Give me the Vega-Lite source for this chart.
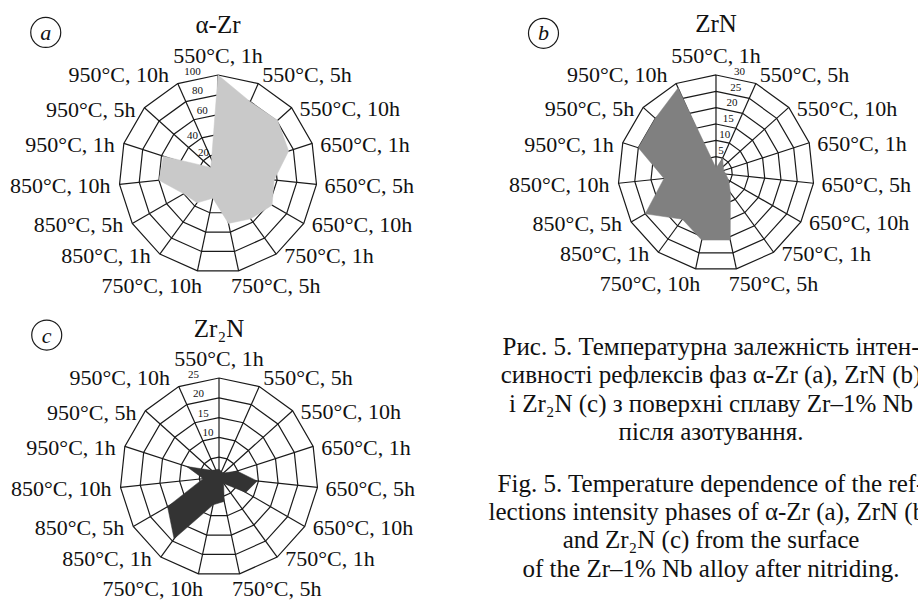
{
  "$schema": "https://vega.github.io/schema/vega-lite/v6.json",
  "padding": 0,
  "background": "white",
  "config": {"view": {"stroke": null}, "text": {"font": "Liberation Serif", "color": "#111"}},
  "datasets": {
    "cats": [
      {"i": 0, "label": "550°C, 1h"}, {"i": 1, "label": "550°C, 5h"}, {"i": 2, "label": "550°C, 10h"},
      {"i": 3, "label": "650°C, 1h"}, {"i": 4, "label": "650°C, 5h"}, {"i": 5, "label": "650°C, 10h"},
      {"i": 6, "label": "750°C, 1h"}, {"i": 7, "label": "750°C, 5h"}, {"i": 8, "label": "750°C, 10h"},
      {"i": 9, "label": "850°C, 1h"}, {"i": 10, "label": "850°C, 5h"}, {"i": 11, "label": "850°C, 10h"},
      {"i": 12, "label": "950°C, 1h"}, {"i": 13, "label": "950°C, 5h"}, {"i": 14, "label": "950°C, 10h"}
    ],
    "vals": [
      {"panel": "a", "i": 0, "v": 100}, {"panel": "a", "i": 1, "v": 80}, {"panel": "a", "i": 2, "v": 81},
      {"panel": "a", "i": 3, "v": 75}, {"panel": "a", "i": 4, "v": 57}, {"panel": "a", "i": 5, "v": 63},
      {"panel": "a", "i": 6, "v": 56}, {"panel": "a", "i": 7, "v": 51}, {"panel": "a", "i": 8, "v": 25},
      {"panel": "a", "i": 9, "v": 36}, {"panel": "a", "i": 10, "v": 40}, {"panel": "a", "i": 11, "v": 60},
      {"panel": "a", "i": 12, "v": 58}, {"panel": "a", "i": 13, "v": 10}, {"panel": "a", "i": 14, "v": 16},
      {"panel": "b", "i": 0, "v": 1.5}, {"panel": "b", "i": 1, "v": 5}, {"panel": "b", "i": 2, "v": 3},
      {"panel": "b", "i": 3, "v": 2.5}, {"panel": "b", "i": 4, "v": 3}, {"panel": "b", "i": 5, "v": 4.5},
      {"panel": "b", "i": 6, "v": 7.5}, {"panel": "b", "i": 7, "v": 21}, {"panel": "b", "i": 8, "v": 21},
      {"panel": "b", "i": 9, "v": 17.5}, {"panel": "b", "i": 10, "v": 25}, {"panel": "b", "i": 11, "v": 16},
      {"panel": "b", "i": 12, "v": 25}, {"panel": "b", "i": 13, "v": 25}, {"panel": "b", "i": 14, "v": 28.5},
      {"panel": "c", "i": 0, "v": 2}, {"panel": "c", "i": 1, "v": 1.5}, {"panel": "c", "i": 2, "v": 1.5},
      {"panel": "c", "i": 3, "v": 4.8}, {"panel": "c", "i": 4, "v": 9.7}, {"panel": "c", "i": 5, "v": 7.8},
      {"panel": "c", "i": 6, "v": 2}, {"panel": "c", "i": 7, "v": 6.3}, {"panel": "c", "i": 8, "v": 7.2},
      {"panel": "c", "i": 9, "v": 19.3}, {"panel": "c", "i": 10, "v": 15}, {"panel": "c", "i": 11, "v": 4},
      {"panel": "c", "i": 12, "v": 8.6}, {"panel": "c", "i": 13, "v": 2.5}, {"panel": "c", "i": 14, "v": 2}
    ],
    "grid": [
      {"panel": "a", "i": [0,1,2,3,4,5,6,7,8,9,10,11,12,13,14], "lv": [20,40,60,80,100]},
      {"panel": "b", "i": [0,1,2,3,4,5,6,7,8,9,10,11,12,13,14], "lv": [5,10,15,20,25,30]},
      {"panel": "c", "i": [0,1,2,3,4,5,6,7,8,9,10,11,12,13,14], "lv": [5,10,15,20,25]}
    ],
    "panels": [
      {"panel": "a", "title": "α-Zr", "letter": "a"},
      {"panel": "b", "title": "ZrN", "letter": "b"},
      {"panel": "c", "title": "Zr₂N", "letter": "c"}
    ],
    "caption": [
      {"p": 1, "lines": ["Рис. 5. Температурна залежність інтен-", "сивності рефлексів фаз α-Zr (a), ZrN (b)", "і Zr₂N (c) з поверхні сплаву Zr–1% Nb", "після азотування."]},
      {"p": 2, "lines": ["Fig. 5. Temperature dependence of the ref-", "lections intensity phases of α-Zr (a), ZrN (b)", "and Zr₂N (c) from the surface", "of the Zr–1% Nb alloy after nitriding."]}
    ]
  },
  "columns": 2,
  "spacing": 0,
  "bounds": "flush",
  "concat": [
    {
      "width": 459, "height": 300,
      "encoding": {
        "x": {"field": "X", "type": "quantitative", "scale": {"domain": [-2.202, 2.434], "nice": false, "zero": false}, "axis": null},
        "y": {"field": "Y", "type": "quantitative", "scale": {"domain": [-1.273, 1.758], "nice": false, "zero": false}, "axis": null}
      },
      "layer": [
        {"data": {"name": "grid"}, "transform": [{"filter": "datum.panel=='a'"}, {"flatten": ["i"]}, {"flatten": ["lv"]}, {"calculate": "datum.lv/100*sin(2*PI*datum.i/15)", "as": "X"}, {"calculate": "datum.lv/100*cos(2*PI*datum.i/15)", "as": "Y"}],
         "mark": {"type": "line", "interpolate": "linear-closed", "stroke": "#1a1a1a", "strokeWidth": 1.2},
         "encoding": {"detail": {"field": "lv", "type": "nominal"}, "order": {"field": "i", "type": "quantitative"}}},
        {"data": {"name": "cats"}, "transform": [{"calculate": "sin(2*PI*datum.i/15)", "as": "X"}, {"calculate": "cos(2*PI*datum.i/15)", "as": "Y"}],
         "mark": {"type": "rule", "stroke": "#1a1a1a", "strokeWidth": 1.2},
         "encoding": {"x2": {"datum": 0}, "y2": {"datum": 0}}},
        {"data": {"name": "vals"}, "transform": [{"filter": "datum.panel=='a'"}, {"calculate": "datum.v/100*sin(2*PI*datum.i/15)", "as": "X"}, {"calculate": "datum.v/100*cos(2*PI*datum.i/15)", "as": "Y"}],
         "mark": {"type": "line", "interpolate": "linear-closed", "fill": "#c9c9c9", "stroke": "#c9c9c9", "strokeWidth": 0.5},
         "encoding": {"order": {"field": "i", "type": "quantitative"}}},
        {"data": {"name": "grid"}, "transform": [{"filter": "datum.panel=='a'"}, {"flatten": ["lv"]}, {"calculate": "(datum.lv<=40?326:346)*PI/180", "as": "phi"}, {"calculate": "(datum.lv/100+6/99)*sin(datum.phi)", "as": "X"}, {"calculate": "(datum.lv/100+6/99)*cos(datum.phi)", "as": "Y"}],
         "mark": {"type": "text", "fontSize": 11, "baseline": "middle", "align": "center"},
         "encoding": {"text": {"field": "lv", "type": "nominal"}}},
        {"data": {"name": "cats"}, "transform": [{"filter": "datum.i==0"}, {"calculate": "2*PI*datum.i/15", "as": "th"}, {"calculate": "sin(datum.th)", "as": "X"}, {"calculate": "cos(datum.th)+12/99", "as": "Y"}],
         "mark": {"type": "text", "align": "center", "baseline": "alphabetic", "fontSize": 22},
         "encoding": {"text": {"field": "label", "type": "nominal"}}},
        {"data": {"name": "cats"}, "transform": [{"filter": "datum.i>=1 && datum.i<=7"}, {"calculate": "2*PI*datum.i/15", "as": "th"}, {"calculate": "datum.i==1?4:datum.i<=6?8:-7.6", "as": "dxp"}, {"calculate": "datum.i==1?-1.5:datum.i<=6?8.5:22", "as": "dyp"}, {"calculate": "sin(datum.th)+datum.dxp/99", "as": "X"}, {"calculate": "cos(datum.th)-datum.dyp/99", "as": "Y"}],
         "mark": {"type": "text", "align": "left", "baseline": "alphabetic", "fontSize": 22},
         "encoding": {"text": {"field": "label", "type": "nominal"}}},
        {"data": {"name": "cats"}, "transform": [{"filter": "datum.i>=8"}, {"calculate": "2*PI*datum.i/15", "as": "th"}, {"calculate": "datum.i==8?4.6:datum.i<=13?-9:-8.7", "as": "dxp"}, {"calculate": "datum.i==8?22:datum.i<=13?9:-1.5", "as": "dyp"}, {"calculate": "sin(datum.th)+datum.dxp/99", "as": "X"}, {"calculate": "cos(datum.th)-datum.dyp/99", "as": "Y"}],
         "mark": {"type": "text", "align": "right", "baseline": "alphabetic", "fontSize": 22},
         "encoding": {"text": {"field": "label", "type": "nominal"}}},
        {"data": {"name": "panels"}, "transform": [{"filter": "datum.panel=='a'"}, {"calculate": "-1.74", "as": "X"}, {"calculate": "1.43", "as": "Y"}],
         "mark": {"type": "point", "shape": "circle", "size": 900, "filled": false, "stroke": "#1a1a1a", "strokeWidth": 1.2, "opacity": 1}},
        {"data": {"name": "panels"}, "transform": [{"filter": "datum.panel=='a'"}, {"calculate": "-1.74", "as": "X"}, {"calculate": "1.43", "as": "Y"}],
         "mark": {"type": "text", "fontSize": 22, "fontStyle": "italic", "baseline": "middle", "align": "center", "dy": 1},
         "encoding": {"text": {"field": "letter", "type": "nominal"}}},
        {"data": {"name": "panels"}, "transform": [{"filter": "datum.panel=='a'"}, {"calculate": "0", "as": "X"}, {"calculate": "1.51", "as": "Y"}],
         "mark": {"type": "text", "fontSize": 25, "baseline": "middle", "align": "center"},
         "encoding": {"text": {"field": "title", "type": "nominal"}}}
      ]
    },
    {
      "width": 459, "height": 300,
      "encoding": {
        "x": {"field": "X", "type": "quantitative", "scale": {"domain": [-2.622, 2.061], "nice": false, "zero": false}, "axis": null},
        "y": {"field": "Y", "type": "quantitative", "scale": {"domain": [-1.296, 1.765], "nice": false, "zero": false}, "axis": null}
      },
      "layer": [
        {"data": {"name": "grid"}, "transform": [{"filter": "datum.panel=='b'"}, {"flatten": ["i"]}, {"flatten": ["lv"]}, {"calculate": "datum.lv/30*sin(2*PI*datum.i/15)", "as": "X"}, {"calculate": "datum.lv/30*cos(2*PI*datum.i/15)", "as": "Y"}],
         "mark": {"type": "line", "interpolate": "linear-closed", "stroke": "#1a1a1a", "strokeWidth": 1.2},
         "encoding": {"detail": {"field": "lv", "type": "nominal"}, "order": {"field": "i", "type": "quantitative"}}},
        {"data": {"name": "cats"}, "transform": [{"calculate": "sin(2*PI*datum.i/15)", "as": "X"}, {"calculate": "cos(2*PI*datum.i/15)", "as": "Y"}],
         "mark": {"type": "rule", "stroke": "#1a1a1a", "strokeWidth": 1.2},
         "encoding": {"x2": {"datum": 0}, "y2": {"datum": 0}}},
        {"data": {"name": "vals"}, "transform": [{"filter": "datum.panel=='b'"}, {"calculate": "datum.v/30*sin(2*PI*datum.i/15)", "as": "X"}, {"calculate": "datum.v/30*cos(2*PI*datum.i/15)", "as": "Y"}],
         "mark": {"type": "line", "interpolate": "linear-closed", "fill": "#808080", "stroke": "#808080", "strokeWidth": 0.5},
         "encoding": {"order": {"field": "i", "type": "quantitative"}}},
        {"data": {"name": "grid"}, "transform": [{"filter": "datum.panel=='b'"}, {"flatten": ["lv"]}, {"calculate": "13*PI/180", "as": "phi"}, {"calculate": "(datum.lv/30+6/98)*sin(datum.phi)", "as": "X"}, {"calculate": "(datum.lv/30+6/98)*cos(datum.phi)", "as": "Y"}],
         "mark": {"type": "text", "fontSize": 11, "baseline": "middle", "align": "center"},
         "encoding": {"text": {"field": "lv", "type": "nominal"}}},
        {"data": {"name": "cats"}, "transform": [{"filter": "datum.i==0"}, {"calculate": "2*PI*datum.i/15", "as": "th"}, {"calculate": "sin(datum.th)", "as": "X"}, {"calculate": "cos(datum.th)+12/98", "as": "Y"}],
         "mark": {"type": "text", "align": "center", "baseline": "alphabetic", "fontSize": 22},
         "encoding": {"text": {"field": "label", "type": "nominal"}}},
        {"data": {"name": "cats"}, "transform": [{"filter": "datum.i>=1 && datum.i<=7"}, {"calculate": "2*PI*datum.i/15", "as": "th"}, {"calculate": "datum.i==1?4:datum.i<=6?8:-7.6", "as": "dxp"}, {"calculate": "datum.i==1?-1.5:datum.i<=6?8.5:22", "as": "dyp"}, {"calculate": "sin(datum.th)+datum.dxp/98", "as": "X"}, {"calculate": "cos(datum.th)-datum.dyp/98", "as": "Y"}],
         "mark": {"type": "text", "align": "left", "baseline": "alphabetic", "fontSize": 22},
         "encoding": {"text": {"field": "label", "type": "nominal"}}},
        {"data": {"name": "cats"}, "transform": [{"filter": "datum.i>=8"}, {"calculate": "2*PI*datum.i/15", "as": "th"}, {"calculate": "datum.i==8?4.6:datum.i<=13?-9:-8.7", "as": "dxp"}, {"calculate": "datum.i==8?22:datum.i<=13?9:-1.5", "as": "dyp"}, {"calculate": "sin(datum.th)+datum.dxp/98", "as": "X"}, {"calculate": "cos(datum.th)-datum.dyp/98", "as": "Y"}],
         "mark": {"type": "text", "align": "right", "baseline": "alphabetic", "fontSize": 22},
         "encoding": {"text": {"field": "label", "type": "nominal"}}},
        {"data": {"name": "panels"}, "transform": [{"filter": "datum.panel=='b'"}, {"calculate": "-1.76", "as": "X"}, {"calculate": "1.425", "as": "Y"}],
         "mark": {"type": "point", "shape": "circle", "size": 900, "filled": false, "stroke": "#1a1a1a", "strokeWidth": 1.2, "opacity": 1}},
        {"data": {"name": "panels"}, "transform": [{"filter": "datum.panel=='b'"}, {"calculate": "-1.76", "as": "X"}, {"calculate": "1.425", "as": "Y"}],
         "mark": {"type": "text", "fontSize": 22, "fontStyle": "italic", "baseline": "middle", "align": "center", "dy": 0},
         "encoding": {"text": {"field": "letter", "type": "nominal"}}},
        {"data": {"name": "panels"}, "transform": [{"filter": "datum.panel=='b'"}, {"calculate": "0", "as": "X"}, {"calculate": "1.52", "as": "Y"}],
         "mark": {"type": "text", "fontSize": 25, "baseline": "middle", "align": "center"},
         "encoding": {"text": {"field": "title", "type": "nominal"}}}
      ]
    },
    {
      "width": 459, "height": 301,
      "encoding": {
        "x": {"field": "X", "type": "quantitative", "scale": {"domain": [-2.212, 2.424], "nice": false, "zero": false}, "axis": null},
        "y": {"field": "Y", "type": "quantitative", "scale": {"domain": [-1.253, 1.788], "nice": false, "zero": false}, "axis": null}
      },
      "layer": [
        {"data": {"name": "grid"}, "transform": [{"filter": "datum.panel=='c'"}, {"flatten": ["i"]}, {"flatten": ["lv"]}, {"calculate": "datum.lv/25*sin(2*PI*datum.i/15)", "as": "X"}, {"calculate": "datum.lv/25*cos(2*PI*datum.i/15)", "as": "Y"}],
         "mark": {"type": "line", "interpolate": "linear-closed", "stroke": "#1a1a1a", "strokeWidth": 1.2},
         "encoding": {"detail": {"field": "lv", "type": "nominal"}, "order": {"field": "i", "type": "quantitative"}}},
        {"data": {"name": "cats"}, "transform": [{"calculate": "sin(2*PI*datum.i/15)", "as": "X"}, {"calculate": "cos(2*PI*datum.i/15)", "as": "Y"}],
         "mark": {"type": "rule", "stroke": "#1a1a1a", "strokeWidth": 1.2},
         "encoding": {"x2": {"datum": 0}, "y2": {"datum": 0}}},
        {"data": {"name": "vals"}, "transform": [{"filter": "datum.panel=='c'"}, {"calculate": "datum.v/25*sin(2*PI*datum.i/15)", "as": "X"}, {"calculate": "datum.v/25*cos(2*PI*datum.i/15)", "as": "Y"}],
         "mark": {"type": "line", "interpolate": "linear-closed", "fill": "#333333", "stroke": "#333333", "strokeWidth": 0.5},
         "encoding": {"order": {"field": "i", "type": "quantitative"}}},
        {"data": {"name": "grid"}, "transform": [{"filter": "datum.panel=='c'"}, {"flatten": ["lv"]}, {"filter": "datum.lv>=10"}, {"calculate": "346*PI/180", "as": "phi"}, {"calculate": "(datum.lv/25+6/99)*sin(datum.phi)", "as": "X"}, {"calculate": "(datum.lv/25+6/99)*cos(datum.phi)", "as": "Y"}],
         "mark": {"type": "text", "fontSize": 11, "baseline": "middle", "align": "center"},
         "encoding": {"text": {"field": "lv", "type": "nominal"}}},
        {"data": {"name": "cats"}, "transform": [{"filter": "datum.i==0"}, {"calculate": "2*PI*datum.i/15", "as": "th"}, {"calculate": "sin(datum.th)", "as": "X"}, {"calculate": "cos(datum.th)+12/99", "as": "Y"}],
         "mark": {"type": "text", "align": "center", "baseline": "alphabetic", "fontSize": 22},
         "encoding": {"text": {"field": "label", "type": "nominal"}}},
        {"data": {"name": "cats"}, "transform": [{"filter": "datum.i>=1 && datum.i<=7"}, {"calculate": "2*PI*datum.i/15", "as": "th"}, {"calculate": "datum.i==1?4:datum.i<=6?8:-7.6", "as": "dxp"}, {"calculate": "datum.i==1?-1.5:datum.i<=6?8.5:22", "as": "dyp"}, {"calculate": "sin(datum.th)+datum.dxp/99", "as": "X"}, {"calculate": "cos(datum.th)-datum.dyp/99", "as": "Y"}],
         "mark": {"type": "text", "align": "left", "baseline": "alphabetic", "fontSize": 22},
         "encoding": {"text": {"field": "label", "type": "nominal"}}},
        {"data": {"name": "cats"}, "transform": [{"filter": "datum.i>=8"}, {"calculate": "2*PI*datum.i/15", "as": "th"}, {"calculate": "datum.i==8?4.6:datum.i<=13?-9:-8.7", "as": "dxp"}, {"calculate": "datum.i==8?22:datum.i<=13?9:-1.5", "as": "dyp"}, {"calculate": "sin(datum.th)+datum.dxp/99", "as": "X"}, {"calculate": "cos(datum.th)-datum.dyp/99", "as": "Y"}],
         "mark": {"type": "text", "align": "right", "baseline": "alphabetic", "fontSize": 22},
         "encoding": {"text": {"field": "label", "type": "nominal"}}},
        {"data": {"name": "panels"}, "transform": [{"filter": "datum.panel=='c'"}, {"calculate": "-1.74", "as": "X"}, {"calculate": "1.434", "as": "Y"}],
         "mark": {"type": "point", "shape": "circle", "size": 900, "filled": false, "stroke": "#1a1a1a", "strokeWidth": 1.2, "opacity": 1}},
        {"data": {"name": "panels"}, "transform": [{"filter": "datum.panel=='c'"}, {"calculate": "-1.74", "as": "X"}, {"calculate": "1.434", "as": "Y"}],
         "mark": {"type": "text", "fontSize": 22, "fontStyle": "italic", "baseline": "middle", "align": "center", "dy": 1},
         "encoding": {"text": {"field": "letter", "type": "nominal"}}},
        {"data": {"name": "panels"}, "transform": [{"filter": "datum.panel=='c'"}, {"calculate": "0", "as": "X"}, {"calculate": "1.5", "as": "Y"}],
         "mark": {"type": "text", "fontSize": 25, "baseline": "middle", "align": "center"},
         "encoding": {"text": {"field": "title", "type": "nominal"}}}
      ]
    },
    {
      "width": 459, "height": 301,
      "data": {"name": "caption"},
      "mark": {"type": "text", "clip": true, "align": "center", "baseline": "alphabetic", "fontSize": 25, "lineHeight": 28.3},
      "encoding": {
        "x": {"datum": 0, "scale": {"domain": [-252, 207], "nice": false, "zero": false}, "axis": null},
        "y": {"field": "p", "type": "quantitative", "scale": {"domain": [0.5977, 2.7997], "reverse": true, "nice": false, "zero": false}, "axis": null},
        "text": {"field": "lines", "type": "nominal"}
      }
    }
  ]
}
